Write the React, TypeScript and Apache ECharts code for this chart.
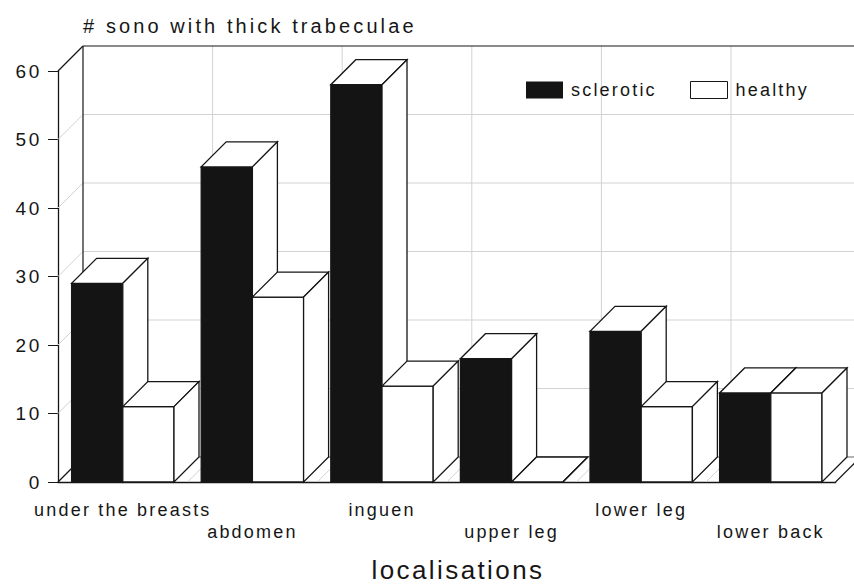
import React, { useEffect, useRef } from 'react';
import * as echarts from 'echarts';

// Body sites examined
const categories = ['under the breasts', 'abdomen', 'inguen', 'upper leg', 'lower leg', 'lower back'];
// Number of sonograms with thick trabeculae per site
const sclerotic = [29, 46, 58, 18, 22, 13];
const healthy = [11, 27, 14, 0, 11, 13];
// Value-axis ticks
const yTicks = [0, 10, 20, 30, 40, 50, 60];

// Oblique projection offset of the box depth (pixels)
const DX = 25;
const DY = -25;
const BAR_FRAC = 0.395;
const INK = '#161616';
const GRID = '#d2d2d2';
const BLACK_FILL = '#141414';
const FONT = 'Liberation Sans';

function barRenderer(side: 'left' | 'right', fill: string) {
  return (_params: any, api: any) => {
    const i = api.value(0);
    const v = api.value(1);
    const base = api.coord([i, 0]);
    const top = api.coord([i, v]);
    const band = api.size([1, 0])[0];
    const w = band * BAR_FRAC;
    const xl = side === 'left' ? base[0] - w : base[0];
    const xr = xl + w;
    const yb = base[1];
    const yt = top[1];
    const stroke = { stroke: INK, lineWidth: 1.3 };
    return {
      type: 'group',
      children: [
        { type: 'rect', shape: { x: xl, y: yt, width: w, height: yb - yt }, style: { fill, ...stroke } },
        {
          type: 'polygon',
          shape: { points: [[xl, yt], [xr, yt], [xr + DX, yt + DY], [xl + DX, yt + DY]] },
          style: { fill: '#fff', ...stroke },
        },
        {
          type: 'polygon',
          shape: { points: [[xr, yt], [xr, yb], [xr + DX, yb + DY], [xr + DX, yt + DY]] },
          style: { fill: '#fff', ...stroke },
        },
      ],
    };
  };
}

// Walls and floor of the 3-D box, laid out from the axis scales
function frameRenderer(_params: any, api: any) {
  const band = api.size([1, 0])[0];
  const c0 = api.coord([0, 0]);
  const L = c0[0] - band / 2;
  const R = L + band * categories.length;
  const y0 = c0[1];
  const yTop = api.coord([0, yTicks[yTicks.length - 1]])[1];
  const children: any[] = [];
  const line = (x1: number, y1: number, x2: number, y2: number, stroke: string, w = 1) =>
    children.push({ type: 'line', shape: { x1, y1, x2, y2 }, style: { stroke, lineWidth: w } });

  for (let k = 1; k < categories.length; k++) {
    const x = L + k * band;
    line(x + DX, yTop + DY, x + DX, y0 + DY, GRID);
    line(x, y0, x + DX, y0 + DY, GRID);
  }
  yTicks.forEach((v, idx) => {
    const y = api.coord([0, v])[1];
    const edge = v === 0 || idx === yTicks.length - 1;
    line(L, y, L + DX, y + DY, edge ? INK : GRID, edge ? 1.2 : 1);
    if (v !== 0) line(L + DX, y + DY, R + DX, y + DY, edge ? INK : GRID, edge ? 1.2 : 1);
  });
  line(L + DX, y0 + DY, R + DX, y0 + DY, '#666');
  line(L + DX, yTop + DY, L + DX, y0 + DY, INK, 1.2);
  line(R, y0, R + DX, y0 + DY, INK, 1.2);
  return { type: 'group', children };
}

const legendText = {
  fontFamily: FONT,
  fontSize: 18,
  color: INK,
  padding: [0, 0, 0, 3],
};

export default function App() {
  const ref = useRef<HTMLDivElement>(null);

  useEffect(() => {
    if (!ref.current) return;
    const chart = echarts.init(ref.current, undefined, { renderer: 'svg' });
    chart.setOption({
      animation: false,
      backgroundColor: '#fff',
      title: {
        text: '# sono with thick trabeculae',
        left: 83,
        top: 16,
        padding: 0,
        textStyle: { fontFamily: FONT, fontSize: 20, fontWeight: 'normal', color: INK },
      },
      legend: [
        {
          data: [{ name: 'sclerotic', itemStyle: { color: BLACK_FILL } }],
          left: 526,
          top: 81,
          padding: 0,
          icon: 'rect',
          itemWidth: 37,
          itemHeight: 17,
          selectedMode: false,
          textStyle: legendText,
        },
        {
          data: [{ name: 'healthy', itemStyle: { color: '#fff', borderColor: INK, borderWidth: 1 } }],
          left: 690,
          top: 81,
          padding: 0,
          icon: 'rect',
          itemWidth: 37,
          itemHeight: 17,
          selectedMode: false,
          textStyle: legendText,
        },
      ],
      grid: { left: 58, right: 18.4, top: 71, bottom: 104 },
      xAxis: {
        type: 'category',
        data: categories,
        axisLine: { lineStyle: { color: INK, width: 1.3 } },
        axisTick: { alignWithLabel: true, length: 9, lineStyle: { color: INK } },
        axisLabel: {
          interval: 0,
          fontFamily: FONT,
          fontSize: 18,
          color: INK,
          margin: 17,
          lineHeight: 22,
          formatter: (v: string, i: number) => (i % 2 ? '\n' + v : v),
        },
        splitLine: { show: false },
      },
      yAxis: {
        type: 'value',
        min: 0,
        max: 60,
        interval: 10,
        axisLine: { show: true, lineStyle: { color: INK, width: 1.3 } },
        axisTick: { show: true, length: 10, lineStyle: { color: INK } },
        axisLabel: { fontFamily: FONT, fontSize: 19, color: INK, margin: 16, padding: [6, 0, 0, 0] },
        splitLine: { show: false },
      },
      graphic: [
        {
          type: 'text',
          x: 458,
          y: 570,
          style: {
            text: 'localisations',
            fontFamily: FONT,
            fontSize: 26,
            fill: INK,
            textAlign: 'center',
            textVerticalAlign: 'middle',
            align: 'center',
            verticalAlign: 'middle',
          },
        },
      ],
      series: [
        { type: 'custom', name: 'frame', renderItem: frameRenderer, data: [[0, 0]], z: 1, silent: true },
        {
          type: 'custom',
          name: 'sclerotic',
          renderItem: barRenderer('left', BLACK_FILL),
          data: categories.map((_, i) => [i, sclerotic[i]]),
          encode: { x: 0, y: 1 },
          itemStyle: { color: BLACK_FILL },
          z: 2,
        },
        {
          type: 'custom',
          name: 'healthy',
          renderItem: barRenderer('right', '#fff'),
          data: categories.map((_, i) => [i, healthy[i]]),
          encode: { x: 0, y: 1 },
          itemStyle: { color: '#fff' },
          z: 3,
        },
      ],
    });
    return () => chart.dispose();
  }, []);

  return (
    <>
      <style>{`
        .c3d text[style*="20px"] { letter-spacing: 3.1px; }
        .c3d text[style*="18px"] { letter-spacing: 2.2px; }
        .c3d text[style*="19px"] { letter-spacing: 2.7px; }
        .c3d text[style*="26px"] { letter-spacing: 2.4px; }
      `}</style>
      <div
        className="c3d"
        ref={ref}
        style={{ position: 'fixed', left: 0, top: 0, width: 854, height: 586 }}
      />
    </>
  );
}
